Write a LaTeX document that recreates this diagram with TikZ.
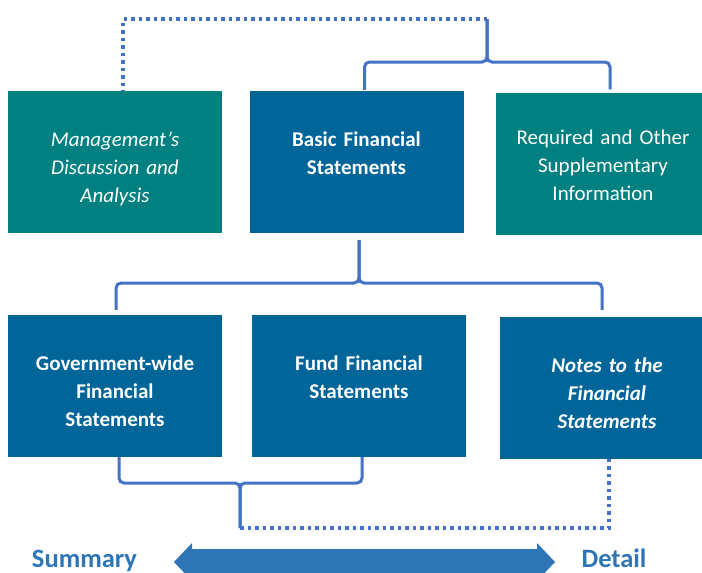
\documentclass[tikz,border=0pt]{standalone}
\usepackage{fontspec}
\setmainfont{Carlito}
\definecolor{mdateal}{RGB}{0,128,128}
\definecolor{fsblue}{RGB}{0,101,153}
\definecolor{braceblue}{RGB}{68,114,196}
\definecolor{scaleblue}{RGB}{46,117,182}
\begin{document}
\begin{tikzpicture}[x=1pt,y=-1pt,
  box/.style={rectangle,inner sep=0pt,minimum width=214pt,text width=200pt,align=center,
    text=white,text height=55pt,text depth=87pt,font=\fontsize{21}{28}\selectfont},
  tealbox/.style={box,fill=mdateal},
  bluebox/.style={box,fill=fsblue},
  brace/.style={draw=braceblue,line width=3pt,rounded corners=5pt},
  dots/.style={draw=braceblue,line width=3.5pt,dash pattern=on 3.5pt off 4pt},
  endlabel/.style={text=scaleblue,inner sep=0pt,font=\fontsize{26.5}{30}\selectfont\bfseries}]

\useasboundingbox (0,0) rectangle (702,573);

% upper row
\node[tealbox] (mda) at (115,162) {\itshape Management’s\\Discussion and\\Analysis};
\node[bluebox] (basic) at (356.5,162) {\bfseries Basic Financial\\Statements};
\node[tealbox,text height=52pt,text depth=90pt] (req) at (603,163.5) {Required and Other\\Supplementary\\Information};

% lower row
\node[bluebox] (gov) at (115,386) {\bfseries Government-wide\\Financial\\Statements};
\node[bluebox] (fund) at (359,386) {\bfseries Fund Financial\\Statements};
\node[bluebox] (notes) at (607,388) {\bfseries\itshape Notes to the\\Financial\\Statements};

\coordinate (topmid) at (487,62);
\coordinate (topjoin) at (487,19);
\coordinate (midtip) at ([xshift=2.5pt,yshift=-7pt]basic.south);
\coordinate (midjoin) at (359,283);
\coordinate (botmid) at (240,483);
\coordinate (botjoin) at (240,528);

% braces
\draw[brace] ([xshift=8pt,yshift=1pt]basic.north) |- (topmid) -- (topjoin);
\draw[brace] ([xshift=7pt,yshift=3pt]req.north) |- (topmid) -- (topjoin);
\draw[brace] (midtip) -- (midjoin) -| ([xshift=1pt,yshift=5pt]gov.north);
\draw[brace] (midtip) -- (midjoin) -| ([xshift=-5pt,yshift=7pt]notes.north);
\draw[brace] ([xshift=4pt]gov.south) |- (botmid) -- (botjoin);
\draw[brace] ([xshift=3pt]fund.south) |- (botmid) -- (botjoin);

% dotted links
\draw[dots] (topjoin) -| ([xshift=8pt]mda.north);
\draw[dots] (botjoin) -| ([xshift=2pt]notes.south);

% summary -- detail scale
\node[endlabel,anchor=base] (summary) at (84.5,567) {Summary};
\node[endlabel,anchor=base] (detail) at (614,567) {Detail};
\fill[scaleblue] (174,562) -- (192,543) -- (192,549) -- (537,549) -- (537,543) -- (555,562)
  -- (537,581) -- (537,575) -- (192,575) -- (192,581) -- cycle;
\end{tikzpicture}
\end{document}
